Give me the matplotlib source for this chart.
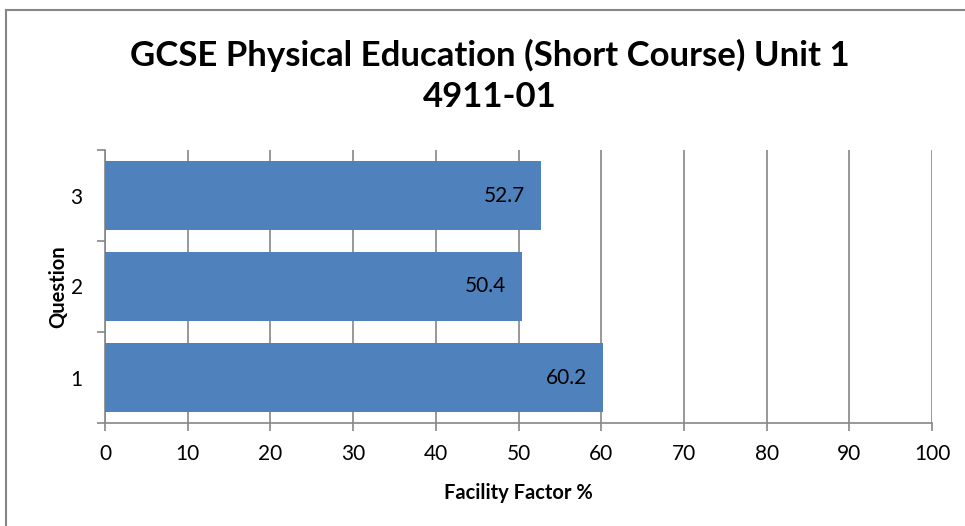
import matplotlib
matplotlib.use("Agg")
import matplotlib.pyplot as plt
from matplotlib.lines import Line2D

questions = ["1", "2", "3"]
facility = [60.2, 50.4, 52.7]
xticks = [0, 10, 20, 30, 40, 50, 60, 70, 80, 90, 100]

plt.rcParams['font.family'] = ['Lato', 'DejaVu Sans']

W, H = 965, 526
fig = plt.figure(figsize=(W / 100, H / 100), dpi=100)
ax = fig.add_axes([105 / W, 1 - 423 / H, (932 - 105) / W, (423 - 150) / H])

grid_c = "#868686"
pos = list(range(len(questions)))
ax.barh(pos, facility, height=0.76, color="#4F81BD", zorder=3)
for p, v in zip(pos, facility):
    ax.annotate(f"{v}", (v, p), xytext=(-11.5, 0), textcoords="offset points",
                ha="right", va="center", fontsize=15, color="black", zorder=4)

ax.set_xlim(0, 100)
ax.set_ylim(-0.5, len(questions) - 0.5)
ax.set_xticks(xticks)
ax.set_xticklabels([str(t) for t in xticks], fontsize=15)
ax.set_yticks(pos)
ax.set_yticklabels(questions, fontsize=15)
ax.set_yticks([-0.5, 0.5, 1.5, 2.5], minor=True)
ax.tick_params(axis="y", which="major", length=0, pad=16)
ax.tick_params(axis="y", which="minor", length=6, color=grid_c, width=1.2)
ax.tick_params(axis="x", which="major", length=6, color=grid_c, width=1.2, pad=9)
ax.xaxis.grid(True, color=grid_c, linewidth=1.2, zorder=0)
for s in ["top", "right"]:
    ax.spines[s].set_visible(False)
for s in ["left", "bottom"]:
    ax.spines[s].set_color(grid_c)
    ax.spines[s].set_linewidth(1.2)

ax.set_xlabel("Facility Factor %", fontsize=14.5, fontweight="bold", labelpad=14)
ax.set_ylabel("Question", fontsize=14.5, fontweight="bold", labelpad=2)

fig.text(490 / W, 1 - 55 / H, "GCSE Physical Education (Short Course) Unit 1",
         ha="center", va="center", fontsize=25, fontweight="bold")
fig.text(490 / W, 1 - 97 / H, "4911-01",
         ha="center", va="center", fontsize=25, fontweight="bold")

fig.lines.append(Line2D([6 / W, 1], [1 - 10 / H, 1 - 10 / H], transform=fig.transFigure,
                        color=grid_c, linewidth=1.5))
fig.lines.append(Line2D([6 / W, 6 / W], [0, 1 - 10 / H], transform=fig.transFigure,
                        color=grid_c, linewidth=1.5))

fig.savefig("out.png", dpi=100)
